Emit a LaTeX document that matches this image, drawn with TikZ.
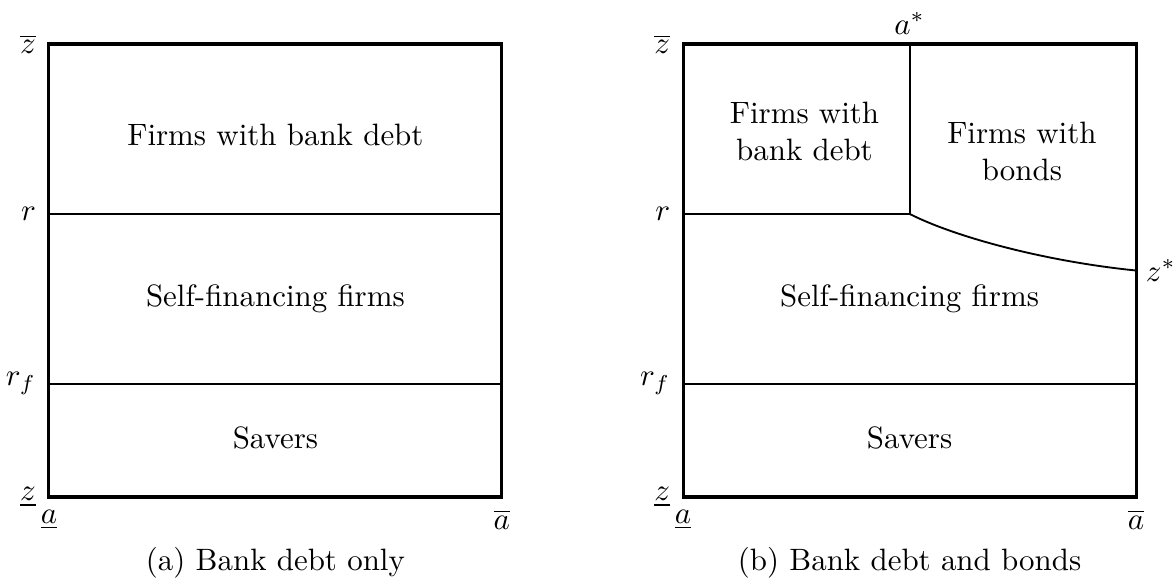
\documentclass[tikz,border=0pt]{standalone}
\usepackage{amsmath}
\usetikzlibrary{positioning}

\begin{document}
\begin{tikzpicture}[
    x=1.03cm, y=1.03cm,
    frame/.style={draw, line width=1pt},
    divider/.style={draw, line width=0.6pt},
    region/.style={align=center},
    axlab/.style={inner sep=3pt},
    caption/.style={},
]
\useasboundingbox (-0.54,-0.949) rectangle (12.43,5.486);

% (a) bank debt only
\coordinate (a-sw) at (0,0);
\coordinate (a-se) at (5,0);
\coordinate (a-nw) at (0,5);
\coordinate (a-ne) at (5,5);
\coordinate (a-rw) at (0,3.125);
\coordinate (a-re) at (5,3.125);
\coordinate (a-fw) at (0,1.25);
\coordinate (a-fe) at (5,1.25);

\draw[divider] (a-rw) -- (a-re);
\draw[divider] (a-fw) -- (a-fe);
\draw[frame] (a-sw) rectangle (a-ne);

\node[region] (a-bank) at (2.5,4) {Firms with bank debt};
\node[region] (a-self) at (2.5,2.19) {Self-financing firms};
\node[region] (a-save) at (2.5,0.65) {Savers};

\node[axlab, left=1pt of a-nw] (a-zhi) {$\overline{z}$};
\node[axlab, left=1pt of a-rw] (a-r) {$r$};
\node[axlab, left=1pt of a-fw] (a-rf) {$r_f$};
\node[axlab, left=1pt of a-sw] (a-zlo) {$\underline{z}$};
\node[axlab, below=1pt of a-sw] (a-alo) {$\underline{a}$};
\node[axlab, below=1pt of a-se] (a-ahi) {$\overline{a}$};
\node[caption] (a-cap) at (2.5,-0.73) {(a) Bank debt only};

% (b) bank debt and bonds
\begin{scope}[shift={(7,0)}]
\coordinate (b-sw) at (0,0);
\coordinate (b-se) at (5,0);
\coordinate (b-nw) at (0,5);
\coordinate (b-ne) at (5,5);
\coordinate (b-rw) at (0,3.125);
\coordinate (b-kink) at (2.5,3.125);
\coordinate (b-astar) at (2.5,5);
\coordinate (b-zstar) at (5,2.5);
\coordinate (b-fw) at (0,1.25);
\coordinate (b-fe) at (5,1.25);

\draw[divider] (b-rw) -- (b-kink);
\draw[divider] (b-kink) -- (b-astar);
\draw[divider] (b-kink) .. controls (3.0,2.87) and (4.0,2.6) .. (b-zstar);
\draw[divider] (b-fw) -- (b-fe);
\draw[frame] (b-sw) rectangle (b-ne);

\node[region] (b-bank) at (1.34,4.04) {Firms with\\bank debt};
\node[region] (b-bond) at (3.74,3.81) {Firms with\\bonds};
\node[region] (b-self) at (2.5,2.19) {Self-financing firms};
\node[region] (b-save) at (2.5,0.65) {Savers};

\node[axlab, left=1pt of b-nw] (b-zhi) {$\overline{z}$};
\node[axlab, left=1pt of b-rw] (b-r) {$r$};
\node[axlab, left=1pt of b-fw] (b-rf) {$r_f$};
\node[axlab, left=1pt of b-sw] (b-zlo) {$\underline{z}$};
\node[axlab, below=1pt of b-sw] (b-alo) {$\underline{a}$};
\node[axlab, below=1pt of b-se] (b-ahi) {$\overline{a}$};
\node[axlab, above=0pt of b-astar] (b-as) {$a^*$};
\node[axlab, right=0pt of b-zstar] (b-zs) {$z^*$};
\node[caption] (b-cap) at (2.5,-0.73) {(b) Bank debt and bonds};
\end{scope}

\end{tikzpicture}
\end{document}
